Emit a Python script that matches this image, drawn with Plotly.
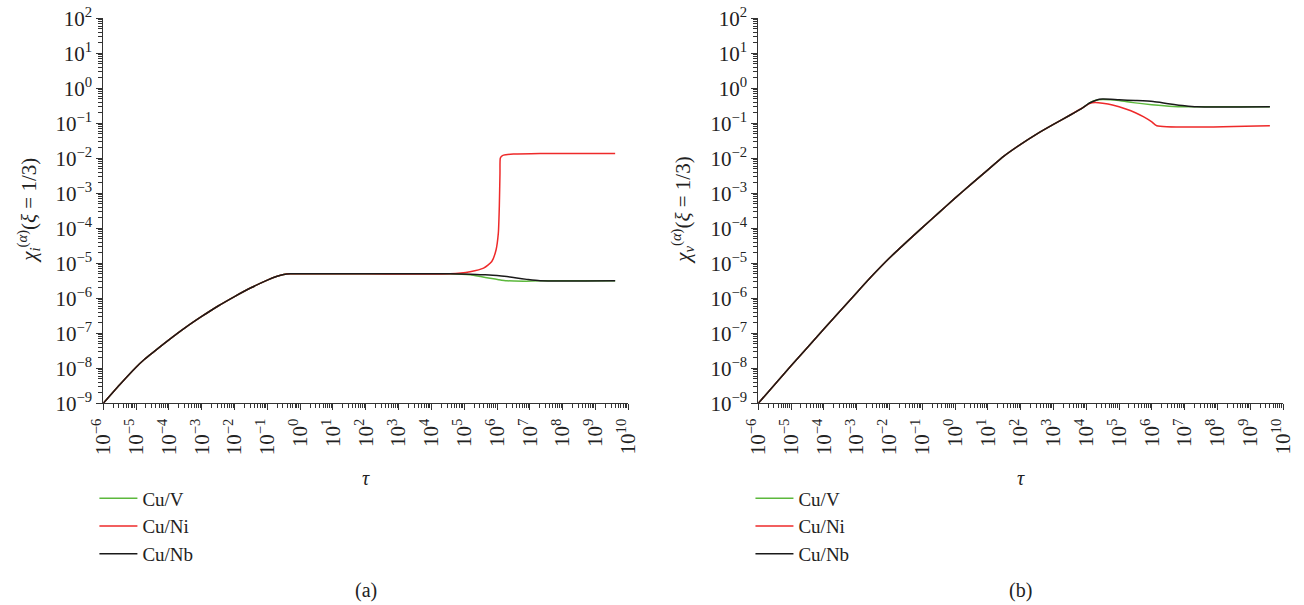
import numpy as np
import plotly.graph_objects as go

# ---------------- data (log10 values) ----------------
# Panel (a): chi_i
a_shared_logtau = [-6, -5.5, -5, -4.75, -4.5, -4, -3.5, -3, -2.5, -2, -1.5, -1, -0.7, -0.5, -0.3, 0, 2, 4.57]
a_shared_logchi = [-9, -8.47, -7.97, -7.75, -7.56, -7.19, -6.84, -6.52, -6.22, -5.95, -5.70, -5.48, -5.37, -5.32, -5.30, -5.30, -5.30, -5.30]

a_V_logtau = [5.18, 5.5, 5.79, 6.05, 6.3, 6.8, 7.3, 9.6]
a_V_logchi = [-5.33, -5.38, -5.43, -5.47, -5.50, -5.51, -5.50, -5.50]

a_Ni_logtau = [5.18, 5.59, 5.84, 5.97, 6.04, 6.07, 6.09, 6.10, 6.14, 6.20, 6.50, 7.31, 9.6]
a_Ni_logchi = [-5.24, -5.14, -4.95, -4.62, -4.14, -3.38, -2.43, -2.00, -1.94, -1.91, -1.88, -1.86, -1.86]

a_Nb_logtau = [5.18, 5.64, 6.0, 6.3, 6.6, 6.91, 7.31, 9.6]
a_Nb_logchi = [-5.31, -5.33, -5.35, -5.38, -5.42, -5.46, -5.50, -5.50]

# Panel (b): chi_v
b_shared_logtau = [-6, -5, -4, -3, -2.5, -2, -1.5, -1, -0.5, 0, 0.5, 1, 1.5, 2, 2.5, 3, 3.5, 3.9]
b_shared_logchi = [-9, -7.93, -6.88, -5.84, -5.33, -4.85, -4.41, -3.98, -3.56, -3.14, -2.73, -2.33, -1.93, -1.60, -1.30, -1.03, -0.77, -0.55]

b_V_logtau = [4.1, 4.3, 4.5, 5.0, 5.43, 6.0, 6.65, 7.0, 9.6]
b_V_logchi = [-0.42, -0.34, -0.32, -0.35, -0.41, -0.47, -0.52, -0.53, -0.53]

b_Ni_logtau = [4.1, 4.27, 4.5, 4.8, 5.23, 5.5, 5.74, 6.0, 6.15, 9.6]
b_Ni_logchi = [-0.44, -0.41, -0.43, -0.48, -0.60, -0.70, -0.81, -0.96, -1.07, -1.07]

b_Nb_logtau = [4.1, 4.3, 4.5, 5.0, 5.5, 6.04, 6.5, 7.0, 7.37, 9.6]
b_Nb_logchi = [-0.42, -0.34, -0.31, -0.33, -0.35, -0.38, -0.44, -0.50, -0.53, -0.53]

series_names = ["Cu/V", "Cu/Ni", "Cu/Nb"]
series_colors = ["#5cb83c", "#ee2a2a", "#1a1a1a"]

y_exponents = list(range(-9, 3))
x_exponents = list(range(-6, 11))

# ---------------- figure ----------------
def pw(v):
    return np.power(10.0, np.array(v, dtype=float))

FONT = "Liberation Serif"
fig = go.Figure()

panels = [
    ("x", "y", "legend", a_shared_logtau, a_shared_logchi,
     [(a_V_logtau, a_V_logchi), (a_Ni_logtau, a_Ni_logchi), (a_Nb_logtau, a_Nb_logchi)]),
    ("x2", "y2", "legend2", b_shared_logtau, b_shared_logchi,
     [(b_V_logtau, b_V_logchi), (b_Ni_logtau, b_Ni_logchi), (b_Nb_logtau, b_Nb_logchi)]),
]

for xa, ya, leg, sx, sy, tails in panels:
    for name, color, (tx, ty) in zip(series_names, series_colors, tails):
        fig.add_trace(go.Scatter(
            x=pw(sx + tx), y=pw(sy + ty), mode="lines", name=name,
            line=dict(color=color, width=1.5, shape="spline", smoothing=0.6),
            xaxis=xa, yaxis=ya, legend=leg, showlegend=True,
        ))

tickfont = dict(family=FONT, size=21, color="#222")

def fmt(e):
    return "10<sup>%s</sup>" % (str(e).replace("-", "\u2212"))

def xaxis_cfg(domain, anchor):
    return dict(
        type="log", domain=domain, anchor=anchor, automargin=False,
        range=[-6, 10], showgrid=False, zeroline=False,
        showline=True, linecolor="#333", linewidth=1,
        ticks="outside", ticklen=6, tickcolor="#333",
        tickvals=[10.0 ** e for e in x_exponents],
        ticktext=[fmt(e) for e in x_exponents],
        tickangle=-90, tickfont=tickfont,
        minor=dict(ticks="outside", ticklen=4, tickcolor="#333", dtick="D1", showgrid=False),
    )

def yaxis_cfg(anchor):
    return dict(
        type="log", domain=[0.3334, 0.9698], anchor=anchor, automargin=False,
        range=[-9, 2], showgrid=False, zeroline=False,
        showline=True, linecolor="#333", linewidth=1,
        ticks="outside", ticklen=6, tickcolor="#333",
        tickvals=[10.0 ** e for e in y_exponents],
        ticktext=[fmt(e) for e in y_exponents],
        tickfont=tickfont,
        minor=dict(ticks="outside", ticklen=4, tickcolor="#333", dtick="D1", showgrid=False),
    )

legend_common = dict(
    font=dict(family=FONT, size=19, color="#222"),
    bgcolor="rgba(0,0,0,0)", xanchor="left", yanchor="top",
    itemwidth=38, tracegroupgap=0,
)

fig.update_layout(
    width=1304, height=605,
    margin=dict(l=0, r=0, t=0, b=0),
    paper_bgcolor="white", plot_bgcolor="white",
    font=dict(family=FONT, color="#222"),
    xaxis=xaxis_cfg([0.0792, 0.4818], "y"),
    yaxis=yaxis_cfg("x"),
    xaxis2=xaxis_cfg([0.5815, 0.9839], "y2"),
    yaxis2=yaxis_cfg("x2"),
    legend=dict(x=0.0724, y=0.2074, **legend_common),
    legend2=dict(x=0.5755, y=0.2074, **legend_common),
)

ann_font = dict(family=FONT, size=20, color="#222")
title_font = dict(family=FONT, size=21, color="#222")
center = dict(xanchor="center", yanchor="middle", showarrow=False)
annotations = [
    dict(text="<i>τ</i>", xref="x domain", x=0.5, yref="paper", y=(605 - 478) / 605, font=ann_font, **center),
    dict(text="<i>τ</i>", xref="x2 domain", x=0.5, yref="paper", y=(605 - 478) / 605, font=ann_font, **center),
    dict(text="<i>χ</i><sub><i>i</i></sub><sup>(<i>α</i>)</sup>(<i>ξ</i> = 1/3)", xref="paper", x=29 / 1304,
         yref="y domain", y=0.5, textangle=-90, font=title_font, **center),
    dict(text="<i>χ</i><sub><i>v</i></sub><sup>(<i>α</i>)</sup>(<i>ξ</i> = 1/3)", xref="paper", x=683 / 1304,
         yref="y2 domain", y=0.5, textangle=-90, font=title_font, **center),
    dict(text="(a)", xref="x domain", x=0.5, yref="paper", y=(605 - 590) / 605, font=ann_font, **center),
    dict(text="(b)", xref="x2 domain", x=0.5, yref="paper", y=(605 - 590) / 605, font=ann_font, **center),
]
fig.update_layout(annotations=annotations)

fig.write_html("out.html")
